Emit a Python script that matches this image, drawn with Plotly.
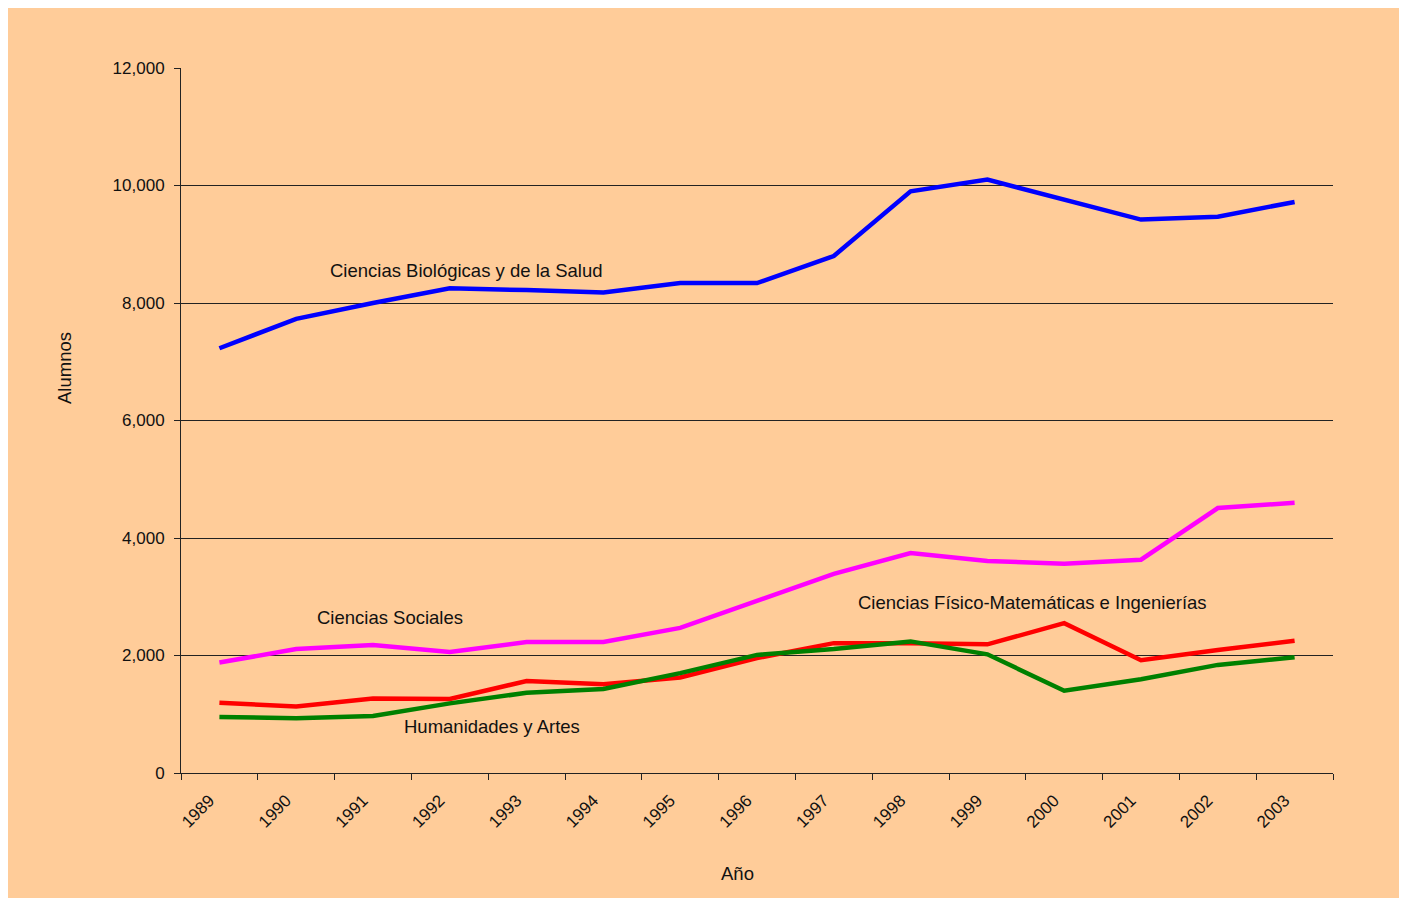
import plotly.graph_objects as go

years = ["1989", "1990", "1991", "1992", "1993", "1994", "1995", "1996",
         "1997", "1998", "1999", "2000", "2001", "2002", "2003"]
bio = [7230, 7730, 8000, 8250, 8220, 8180, 8340, 8340, 8800, 9900, 10100, 9760, 9420, 9470, 9720]
soc = [1880, 2110, 2180, 2060, 2230, 2230, 2470, 2920, 3390, 3745, 3610, 3560, 3630, 4510, 4600]
fis = [1195, 1130, 1270, 1260, 1565, 1510, 1625, 1955, 2210, 2210, 2190, 2550, 1920, 2095, 2250]
hum = [955, 930, 970, 1185, 1365, 1430, 1700, 2010, 2110, 2240, 2020, 1400, 1595, 1840, 1970]

series = [
    ("Ciencias Biológicas y de la Salud", bio, "#0000FF"),
    ("Ciencias Sociales", soc, "#FF00FF"),
    ("Ciencias Físico-Matemáticas e Ingenierías", fis, "#FF0000"),
    ("Humanidades y Artes", hum, "#008000"),
]

FONT = "Liberation Sans, Arial, sans-serif"
PEACH = "#FFCC99"

fig = go.Figure()
for name, vals, col in series:
    fig.add_trace(go.Scatter(x=years, y=vals, mode="lines", name=name,
                             line=dict(color=col, width=4.5)))

labels = [
    ("Ciencias Biológicas y de la Salud", 3.22, 8560),
    ("Ciencias Sociales", 2.22, 2640),
    ("Ciencias Físico-Matemáticas e Ingenierías", 10.59, 2895),
    ("Humanidades y Artes", 3.55, 800),
]
annotations = [dict(text=t, x=x, y=y, xref="x", yref="y", showarrow=False,
                    xanchor="center", yanchor="middle",
                    font=dict(size=18.5, color="#111", family=FONT))
               for t, x, y in labels]
annotations.append(dict(text="Año", x=0.4835, y=-0.142, xref="paper", yref="paper",
                        xanchor="center", yanchor="middle", showarrow=False,
                        font=dict(size=18.5, color="#111", family=FONT)))
annotations.append(dict(text="Alumnos", x=-0.1007, y=0.5745, xref="paper", yref="paper",
                        xanchor="center", yanchor="middle",
                        textangle=-90, showarrow=False,
                        font=dict(size=18.5, color="#111", family=FONT)))

fig.update_layout(
    width=1392, height=890,
    margin=dict(l=173, r=67, t=60, b=125),
    paper_bgcolor=PEACH,
    plot_bgcolor=PEACH,
    showlegend=False,
    font=dict(family=FONT, size=17, color="#111"),
    annotations=annotations,
)
fig.update_xaxes(
    type="category", range=[-0.5, 14.5], tickson="boundaries",
    ticks="outside", ticklen=6, tickcolor="#222", tickwidth=1,
    showline=True, linecolor="#222", linewidth=1,
    showgrid=False, tickangle=-45,
    ticklabelshift=-10, ticklabelstandoff=10,
    tickfont=dict(size=17, family=FONT, color="#111"),
)
fig.update_yaxes(
    range=[0, 12000], dtick=2000, tickformat=",",
    ticks="outside", ticklen=6, tickcolor="#222", tickwidth=1,
    showline=True, linecolor="#222", linewidth=1,
    showgrid=True, gridcolor="#222", gridwidth=1, zeroline=False,
    ticklabelstandoff=6,
    tickfont=dict(size=17, family=FONT, color="#111"),
)

fig.write_html("out.html")
